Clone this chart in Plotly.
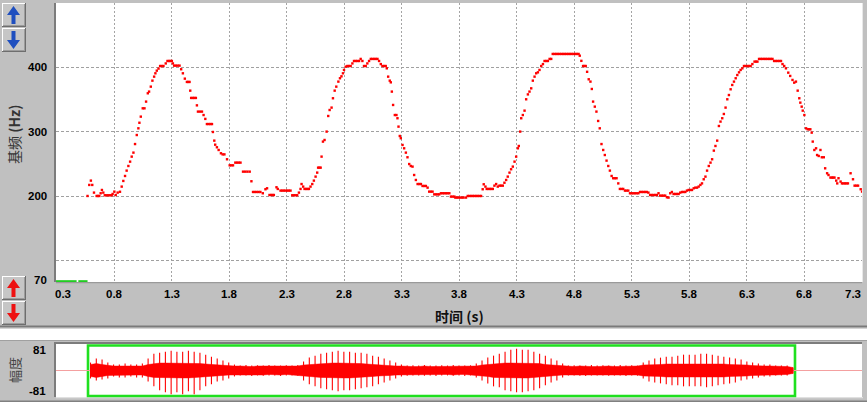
import plotly.graph_objects as go

W, H = 867, 402

# ---------------- pitch (F0) track ----------------
seg1_t = [0.570,0.585,0.599,0.611,0.626,0.649,0.660,0.672,0.684,0.695,
0.707,0.720,0.735,0.750,0.765,0.780,0.788,0.803,0.815,0.832,
0.852,0.867,0.881,0.896,0.910,0.925,0.940,0.954,0.969,0.983,
0.998,1.012,1.021,1.033,1.050,1.065,1.079,1.094,1.105,1.120,
1.134,1.149,1.160,1.172,1.187,1.201,1.215,1.230,1.250,1.265,
1.278,1.291,1.303,1.312,1.323,1.338,1.354,1.370,1.384,1.399,
1.416,1.434,1.446,1.457,1.463,1.471,1.485,1.498,1.512,1.521,
1.530,1.548,1.565,1.579,1.594,1.608,1.623,1.638,1.652,1.660,
1.672,1.680,1.695,1.710,1.730,1.745,1.760,1.783,1.806,1.820,
1.835,1.855,1.870,1.885,1.900,1.922,1.941,1.960,1.980,1.995,
2.009,2.025,2.041,2.057,2.073,2.094,2.117,2.131,2.152,2.166,
2.178,2.190,2.213,2.224,2.248,2.263,2.277,2.292,2.306,2.320,
2.335,2.350,2.364,2.378,2.393,2.408,2.422]
seg1_hz = [200.5,217.6,224.3,217.6,205.7,200.5,200.5,200.5,204.7,209.8,
205.7,201.6,201.6,201.6,201.6,201.6,203.6,207.2,202,205.7,
207,215,223.8,231.5,239.8,247,253.7,261.5,267.7,281,
295,305.4,314,323.5,336.4,336.4,346.8,359.7,362.3,370,
379.3,385.5,390.7,394.8,398,402,402,402,406,409.8,
409.8,409.8,409.8,406,402.6,402.6,402.6,402.6,397,390.7,
382.4,377.3,377.3,377.3,363.8,352.5,352.5,352.5,352.5,341,
331.3,331.3,331.3,326,320,312,312,312,312,299.7,
286.3,280,276,271.8,266.7,265,265,257.4,248,248,
248,252.2,252.2,252.2,252.2,238.2,238.2,238.2,238.2,223.3,
206.7,206.7,206.7,206.7,206.7,204.7,210.9,212.4,202,202,
202,202,214,211.4,208.8,208.8,208.8,208.8,208.8,208.8,
208.8,201.6,201.6,201.6,201.6,205.7,211.4]

seg2_t = [2.431,2.445,2.457,2.470,2.483,2.495,2.509,2.524,2.538,2.553,
2.567,2.575,2.586,2.597,2.605,2.617,2.631,2.649,2.663,2.675,
2.692,2.704,2.719,2.733,2.751,2.765,2.778,2.791,2.800,2.815,
2.829,2.843,2.858,2.873,2.887,2.902,2.916,2.931,2.945,2.960,
2.974,2.989,3.003,3.018,3.033,3.047,3.062,3.076,3.091,3.105,
3.120,3.134,3.149,3.163,3.172,3.184,3.198,3.207,3.216,3.227,
3.242,3.256,3.265,3.274,3.285,3.294,3.309,3.323,3.338,3.352,
3.367,3.381,3.396,3.410,3.425,3.440,3.455,3.469,3.483,3.498,
3.512,3.527,3.541,3.556,3.570,3.585,3.600,3.614,3.628,3.643,
3.658,3.672,3.687,3.701,3.716,3.730,3.745,3.760,3.768,3.782,
3.797,3.811,3.826,3.840,3.861,3.876,3.890,3.905,3.920,3.934,
3.949,3.963,3.978,3.992,4.006,4.015,4.030,4.041,4.055,4.068,
4.081,4.094,4.108,4.123,4.137,4.152,4.166,4.181,4.195,4.210,
4.224,4.239,4.253,4.268,4.283,4.297,4.312,4.320,4.332,4.341,
4.355,4.370,4.384,4.399,4.413,4.428,4.442,4.457,4.471,4.486,
4.500,4.515,4.530,4.544,4.559,4.573,4.588,4.602]
seg2_hz = [219,215,211.4,211.4,211.4,211.4,215,219,224.3,230.5,
236.7,244.4,244.4,244.4,261.5,284.8,287.3,300.3,324.5,333.8,
337.5,352,363.8,370,377.8,383,386,390.7,395.9,401,
402,402,402,406,409.8,409.8,409.8,409.8,413,409.8,
402,402,406,409.8,413,413,413,413,413,409.8,
405,402,402,402,398.4,385.5,379.3,376.7,362.3,341.6,
326,326,321,308,293.5,290,279.6,274.4,267.7,260.5,
250,247,246,233,225.3,219,219,219,216,216,
216,213.4,207.2,207.2,207.2,203,203,203,203,204.7,
204.7,204.7,204.7,204.7,204.7,199.5,199.5,199.5,198,198,
198,198,198,198,198,200.5,200.5,200.5,200.5,200.5,
200.5,200.5,200.5,200.5,210.9,218.6,215,211.4,211.4,211.4,
211.4,211.4,216.5,219,215,216.5,216.5,216.5,221,225.3,
230.5,236.7,241.9,246,253.7,261.5,274.4,278,300.3,321,
326,332.8,350.4,358,362.3,367.4,379.3,385.5,390.7,392.2,
395.9,402,405,409.8,409.8,409.8,413,413]

seg3_t = [4.615,4.630,4.645,4.660,4.675,4.690,4.705,4.720,4.735,4.750,
4.765,4.780,4.795,4.810,4.825,4.840,4.850,4.864,4.879,4.890,
4.902,4.914,4.928,4.943,4.955,4.966,4.981,4.995,5.010,5.024,
5.039,5.054,5.068,5.083,5.098,5.112,5.127,5.141,5.155,5.170,
5.185,5.199,5.214,5.228,5.243,5.257,5.272,5.287,5.301,5.316,
5.330,5.345,5.360,5.374,5.389,5.404,5.418,5.433,5.447,5.462,
5.476,5.491,5.506,5.520,5.535,5.549,5.564,5.578,5.593,5.608,
5.622,5.637,5.651,5.666,5.680,5.695,5.710,5.724,5.739,5.753,
5.768,5.782,5.797,5.811,5.826,5.841,5.855,5.870,5.884,5.899,
5.913,5.928,5.943,5.957,5.972,5.987,6.001,6.016,6.030,6.045,
6.060,6.074,6.089,6.103,6.118,6.133,6.147,6.162,6.176,6.191,
6.206,6.220,6.235,6.249,6.264,6.278,6.292,6.307,6.321,6.336,
6.351,6.370,6.383,6.395,6.409,6.424,6.438,6.453,6.467,6.482,
6.497,6.511,6.526,6.540,6.555,6.570,6.585,6.600,6.613,6.628,
6.643,6.663,6.680,6.700,6.715,6.730,6.745,6.759,6.768,6.780,
6.789,6.803,6.818,6.832,6.844,6.855,6.867,6.876,6.890,6.905,
6.914,6.928,6.943,6.955,6.972,6.984,7.001,7.013,7.030,7.042,
7.054,7.065,7.080,7.089,7.100,7.118,7.130,7.143,7.156,7.169,
7.182,7.205,7.226,7.240,7.255,7.270,7.293,7.305]
seg3_hz = [420.7,420.7,420.7,420.7,420.7,420.7,420.7,420.7,420.7,420.7,
420.7,420.7,420.7,420.7,420.7,420.7,418,410,402,402,
402,393,381.4,377.8,366.4,346.8,339,331.3,316.8,305.4,
281,271.8,264,255.3,247,239.8,231.5,228,228,228,
220,211.4,211.4,211.4,208.8,208.8,208.8,204.7,204.7,204.7,
204.7,204.7,204.7,206.7,206.7,206.7,206.7,206.7,205.7,202,
202,202,202,202,204.7,201,201,201,201,198.5,
198,204.7,206.7,203.6,203.6,203.6,203.6,205.7,206.7,206.7,
206.7,208.8,209.8,209.8,209.8,212.4,213.4,213.4,215,217.6,
220,226.4,230.5,239.8,247,252.2,257.4,270.8,278,286.3,
309,315.8,321,327.6,337.5,350.4,357,365.9,372.6,377.8,
383,388,392.2,395.9,398.4,402,402,402,402,402,
405,408.8,408.8,408.8,413,413,413,413,413,413,
413,413,413,409.8,409.8,409.8,409.8,409.8,405,402,
398.4,391.7,386.6,380.4,376.2,377.8,363.8,352,345.2,339,
332.8,326,305.4,303.9,303.9,303.9,298.7,284.8,271.8,274.4,
264,262.5,271.8,260.5,260.5,243.4,235.7,233,229,229,
229,229,224.3,220,228,222.8,220,220,220,220,
220,235.7,226.4,216.5,216.5,216.5,210.9,207.2]

pitch_t = seg1_t + seg2_t + seg3_t
pitch_hz = seg1_hz + seg2_hz + seg3_hz

# unvoiced marker strip at the bottom (green)
voice_t = [0.296, 0.475, None, 0.490, 0.570]
voice_hz = [68, 68, None, 68, 68]

x_ticks = [0.3, 0.8, 1.3, 1.8, 2.3, 2.8, 3.3, 3.8, 4.3, 4.8, 5.3, 5.8, 6.3, 6.8, 7.3]
x_tick_text = ["0.3", "0.8", "1.3", "1.8", "2.3", "2.8", "3.3", "3.8", "4.3", "4.8",
               "5.3", "5.8", "6.3", "6.8", "7.3"]
y_grid = [100, 200, 300, 400]
y_tick_vals = [500, 400, 300, 200, 70]
y_tick_text = ["500", "400", "300", "200", "70"]

# ---------------- waveform envelope (amplitude units, ±81 scale) ----------------
wave_t0, wave_dt = 0.30, 0.05
wave_up = [32,48,44,32,24,24,28,24,24,28,48,68,72,76,80,76,76,80,76,72,64,56,48,40,32,24,
           20,22,20,21,20,22,20,20,21,20,22,
           36,52,60,68,72,76,80,76,76,72,72,68,60,56,48,40,32,24,
           20,21,20,22,20,20,21,20,22,20,20,21,
           28,40,52,60,68,76,84,88,84,84,76,68,60,48,40,28,
           20,21,20,20,22,20,21,20,20,22,20,21,20,
           32,40,48,52,56,56,60,64,64,64,68,68,64,60,56,52,48,44,36,32,28,24,24,20,20,20,12]
wave_dn = [32,40,36,32,24,28,28,24,28,28,44,64,80,88,96,88,96,84,96,80,64,56,44,40,32,24,
           20,20,22,20,21,20,20,22,20,20,21,
           40,56,64,72,76,80,84,80,80,76,72,68,64,56,48,40,32,24,
           21,20,20,21,20,22,20,20,21,20,22,20,
           28,40,52,64,68,80,84,88,88,84,80,72,60,48,40,28,
           20,20,21,22,20,20,20,21,20,20,22,20,21,
           32,44,48,52,56,60,60,64,64,64,64,68,64,60,56,52,48,40,36,32,28,24,24,20,20,20,12]
wave_core = [24,28,24,20,18,18,18,18,18,18,24,28,30,30,30,30,30,30,30,28,26,24,22,20,18,18,
             18,16,16,18,18,16,16,18,16,16,18,
             22,24,26,28,30,30,30,30,30,28,28,26,24,22,20,20,18,18,
             16,16,16,18,16,16,16,16,18,16,16,18,
             18,22,24,28,28,30,30,30,30,30,28,28,24,22,20,18,
             16,16,18,16,16,16,18,18,16,16,16,18,18,
             22,22,24,24,26,26,28,28,28,28,28,28,28,26,26,24,24,22,22,20,18,18,18,18,18,16,12]
wave_ticks = [81, -81]
selection_t = [0.278, 6.418]

# ---------------- geometry helpers ----------------
def px(x):
    return x / W

def py(y):
    return 1 - y / H

PL, PR = 56, 862
P1T, P1B = 3, 282
P2T, P2B = 344, 397

GRAY = "#c0c0c0"
fig = go.Figure()

# pitch dots
fig.add_trace(go.Scatter(x=pitch_t, y=pitch_hz, mode="markers",
                         marker=dict(symbol="square", size=2.4, color="#ff0000", line=dict(width=0)),
                         xaxis="x", yaxis="y", hoverinfo="skip"))
fig.add_trace(go.Scatter(x=voice_t, y=voice_hz, mode="lines",
                         line=dict(color="#22cc22", width=2.5), xaxis="x", yaxis="y", hoverinfo="skip"))

# waveform
wt = [wave_t0 + i * wave_dt for i in range(len(wave_up))]
fig.add_trace(go.Scatter(x=wt + wt[::-1], y=wave_core + [-v for v in wave_core[::-1]],
                         mode="lines", fill="toself", fillcolor="#ff0000",
                         line=dict(width=0.5, color="#ff0000"), xaxis="x2", yaxis="y2", hoverinfo="skip"))
sx, sy = [], []
for t, u, d in zip(wt, wave_up, wave_dn):
    sx += [t, t, None]
    sy += [-d, u, None]
fig.add_trace(go.Scatter(x=sx, y=sy, mode="lines", line=dict(color="#ff0000", width=1.1),
                         xaxis="x2", yaxis="y2", hoverinfo="skip"))

shapes = []

def rect(x0, y0, x1, y1, color, layer="below"):
    shapes.append(dict(type="rect", xref="paper", yref="paper",
                       x0=px(x0), x1=px(x1), y0=py(y1), y1=py(y0),
                       fillcolor=color, line=dict(width=0), layer=layer))

# top panel frame
rect(0, 0, W, P1T, GRAY)
rect(0, 0, PL, 327, GRAY)
rect(PR, 0, W, 327, GRAY)
rect(0, P1B, W, 327, GRAY)
rect(PL - 2, P1T, PL, P1B, "#7c7c7c")
rect(PL, P1B, PR, P1B + 1.3, "#9a9a9a")
rect(PR, P1T, PR + 1, P1B, "#e8e8e8")
rect(0, 325.5, W, 327, "#7a7a7a")
rect(0, 327, W, 328.5, "#a9a9a9")

# bottom panel frame
rect(0, 340, W, P2T, GRAY)
rect(0, 340, PL, H, GRAY)
rect(PR, 340, W, H, GRAY)
rect(0, P2B, W, H, GRAY)
rect(0, 340, W, 341, "#a0a0a0")
rect(PL - 2, P2T - 2, PR, P2T, "#7c7c7c")
rect(PL - 2, P2T, PL, P2B, "#7c7c7c")
rect(PL, P2B, PR + 1, P2B + 1.3, "#e0e0e0")
rect(0, 400.5, W, H, "#808080")

# buttons
def button(x0, y0, x1, y1, color, up):
    rect(x0, y0, x1, y1, "#c6c6c6", "above")
    rect(x0, y0, x1, y0 + 1, "#ffffff", "above")
    rect(x0, y0, x0 + 1, y1, "#ffffff", "above")
    rect(x0, y1 - 1, x1, y1, "#6e6e6e", "above")
    rect(x1 - 1, y0, x1, y1, "#6e6e6e", "above")
    rect(x0 + 1, y1 - 2, x1 - 1, y1 - 1, "#9c9c9c", "above")
    rect(x1 - 2, y0 + 1, x1 - 1, y1 - 1, "#9c9c9c", "above")
    cx = (x0 + x1) / 2 - 0.5
    if up:
        pts = [(cx, y0 + 3), (cx + 6.5, y0 + 12), (cx + 2, y0 + 12), (cx + 2, y1 - 3),
               (cx - 2, y1 - 3), (cx - 2, y0 + 12), (cx - 6.5, y0 + 12)]
    else:
        pts = [(cx, y1 - 3), (cx + 6.5, y1 - 12), (cx + 2, y1 - 12), (cx + 2, y0 + 3),
               (cx - 2, y0 + 3), (cx - 2, y1 - 12), (cx - 6.5, y1 - 12)]
    path = "M " + " L ".join(f"{px(a):.5f},{py(b):.5f}" for a, b in pts) + " Z"
    shapes.append(dict(type="path", xref="paper", yref="paper", path=path,
                       fillcolor=color, line=dict(width=0), layer="above"))

button(2, 3, 26, 27, "#1f4fbf", True)
button(2, 28, 26, 52, "#1f4fbf", False)
button(2, 276, 26, 300, "#ee1111", True)
button(2, 301, 26, 325, "#ee1111", False)

# selection box on waveform
shapes.append(dict(type="rect", xref="x2", yref="paper",
                   x0=selection_t[0], x1=selection_t[1], y0=py(396), y1=py(345.5),
                   line=dict(color="#1fe01f", width=2.6), fillcolor="rgba(0,0,0,0)", layer="below"))

annotations = []
tick_font = dict(family="Liberation Sans, Arial", size=11.5, color="#000000")
for i, (v, txt) in enumerate(zip(x_ticks, x_tick_text)):
    shift = 0
    if i == 0:
        shift = 6.5
    elif i == len(x_ticks) - 1:
        shift = -8.5
    annotations.append(dict(x=v, xref="x", y=py(294), yref="paper", text=f"<b>{txt}</b>",
                            showarrow=False, font=tick_font, xanchor="center", yanchor="middle",
                            xshift=shift))
for v, txt in zip(y_tick_vals, y_tick_text):
    annotations.append(dict(x=px(49), xref="paper", y=v, yref="y", text=f"<b>{txt}</b>",
                            showarrow=False, font=tick_font, xanchor="right", yanchor="middle",
                            yshift=-7 if v == 500 else 0))
for v in wave_ticks:
    annotations.append(dict(x=px(48), xref="paper", y=v, yref="y2", text=f"<b>{v}</b>",
                            showarrow=False, font=tick_font, xanchor="right", yanchor="middle"))

annotations.append(dict(x=px(459), xref="paper", y=py(316), yref="paper",
                        text="<b>时间 (s)</b>", showarrow=False,
                        font=dict(family="Noto Sans CJK SC", size=14, color="#111111"),
                        xanchor="center", yanchor="middle"))
annotations.append(dict(x=px(14), xref="paper", y=py(135), yref="paper",
                        text="基频 <b>(Hz)</b>", showarrow=False, textangle=-90,
                        font=dict(family="Noto Sans CJK SC", size=14, color="#333333"),
                        xanchor="center", yanchor="middle"))
annotations.append(dict(x=px(14), xref="paper", y=py(370), yref="paper",
                        text="幅度", showarrow=False, textangle=-90,
                        font=dict(family="Noto Sans CJK SC", size=13, color="#444444"),
                        xanchor="center", yanchor="middle"))

common = dict(showline=False, ticks="", showticklabels=False, zeroline=False, fixedrange=True)
fig.update_layout(
    width=W, height=H, margin=dict(l=0, r=0, t=0, b=0),
    paper_bgcolor="#ffffff", plot_bgcolor="#ffffff", showlegend=False,
    xaxis=dict(domain=[px(PL), px(PR)], range=[0.2957, 7.3043], anchor="y",
               tickvals=x_ticks, showgrid=True, gridcolor="#a4a4a4", griddash="2px,2px",
               gridwidth=1, **common),
    yaxis=dict(domain=[py(P1B), py(P1T)], range=[67.1, 499.7], anchor="x",
               tickvals=y_grid, showgrid=True, gridcolor="#a0a0a0", griddash="3px,2px",
               gridwidth=1, **common),
    xaxis2=dict(domain=[px(PL), px(PR)], range=[0, 7.0], anchor="y2", showgrid=False, **common),
    yaxis2=dict(domain=[py(P2B), py(P2T)], range=[-107, 107], anchor="x2", showgrid=False,
                showline=False, ticks="", showticklabels=False, fixedrange=True,
                zeroline=True, zerolinecolor="#f4a0a0", zerolinewidth=1),
    shapes=shapes, annotations=annotations,
)

fig.write_html("out.html", config={"displayModeBar": False},
               post_script="document.body.style.margin='0';document.body.style.overflow='hidden';")
